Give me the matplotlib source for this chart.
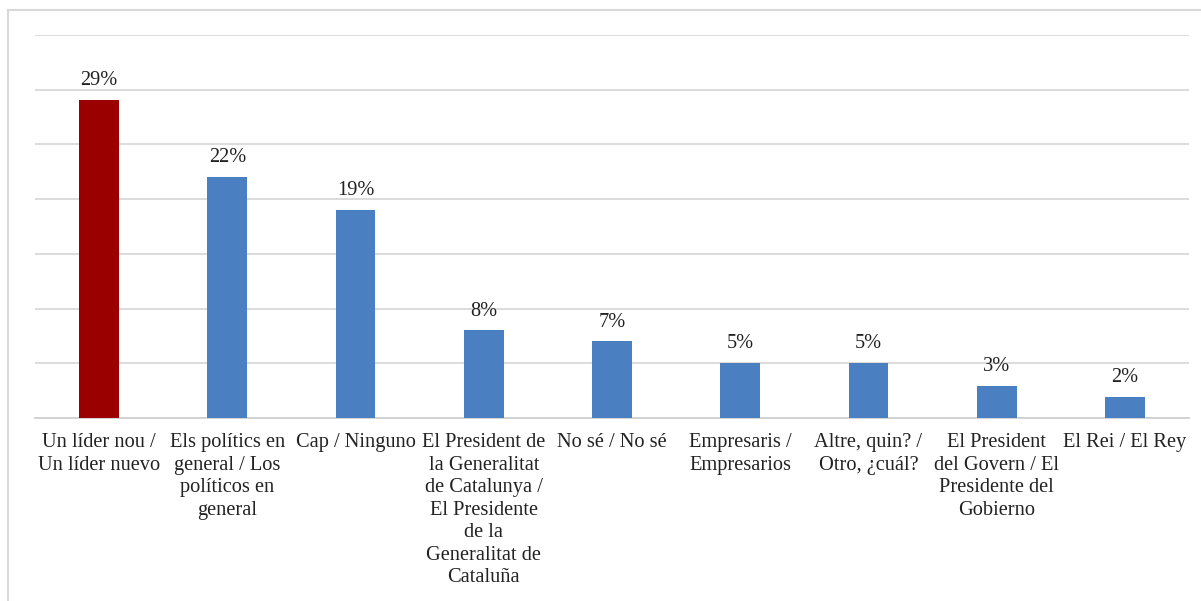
import matplotlib.pyplot as plt
from matplotlib.patches import Rectangle

plt.rcParams['font.family'] = ['Liberation Serif', 'DejaVu Serif']

# data
categories = ["Un líder nou /\nUn líder nuevo",
              "Els polítics en\ngeneral / Los\npolíticos en\ngeneral",
              "Cap / Ninguno",
              "El President de\nla Generalitat\nde Catalunya /\nEl Presidente\nde la\nGeneralitat de\nCataluña",
              "No sé / No sé",
              "Empresaris /\nEmpresarios",
              "Altre, quin? /\nOtro, ¿cuál?",
              "El President\ndel Govern / El\nPresidente del\nGobierno",
              "El Rei / El Rey"]
values = [29.1, 22.0, 19.0, 8.0, 7.0, 5.0, 5.0, 2.9, 1.9]
labels = ["29%", "22%", "19%", "8%", "7%", "5%", "5%", "3%", "2%"]

red = '#9b0000'
blue = '#4a7fc1'
colors = [red] + [blue] * (len(values) - 1)

W, H = 1201, 601
fig = plt.figure(figsize=(12.01, 6.01), dpi=100)
ax = fig.add_axes([35 / W, 1 - 418 / H, (1189 - 35) / W, (418 - 35) / H])

x = range(len(values))
bars = ax.bar(x, values, width=0.31, color=colors, zorder=3)

for b, lab in zip(bars, labels):
    ax.text(b.get_x() + b.get_width() / 2, b.get_height() + 0.9, lab,
            ha='center', va='bottom', fontsize=14.7, color='#222222')

ax.set_xlim(-0.5, len(values) - 0.5)
ax.set_ylim(0, 35)
ax.set_yticks(range(0, 36, 5))
ax.yaxis.grid(True, color='#d9d9d9', linewidth=1.3, zorder=0)
ax.tick_params(axis='y', left=False, labelleft=False)
ax.set_xticks(list(x))
ax.set_xticklabels(categories, fontsize=14.7, color='#222222', linespacing=1.25)
ax.tick_params(axis='x', length=0, pad=11)
for s in ['top', 'right', 'left']:
    ax.spines[s].set_visible(False)
ax.spines['bottom'].set_color('#d0d0d0')
ax.spines['bottom'].set_linewidth(1.3)

# outer chart frame
fig.patches.append(Rectangle((8 / W, -0.05), 1.2, 1 - 10 / H + 0.05,
                             transform=fig.transFigure, fill=False,
                             edgecolor='#d9d9d9', linewidth=1.5))

fig.savefig('out.png', dpi=100)
